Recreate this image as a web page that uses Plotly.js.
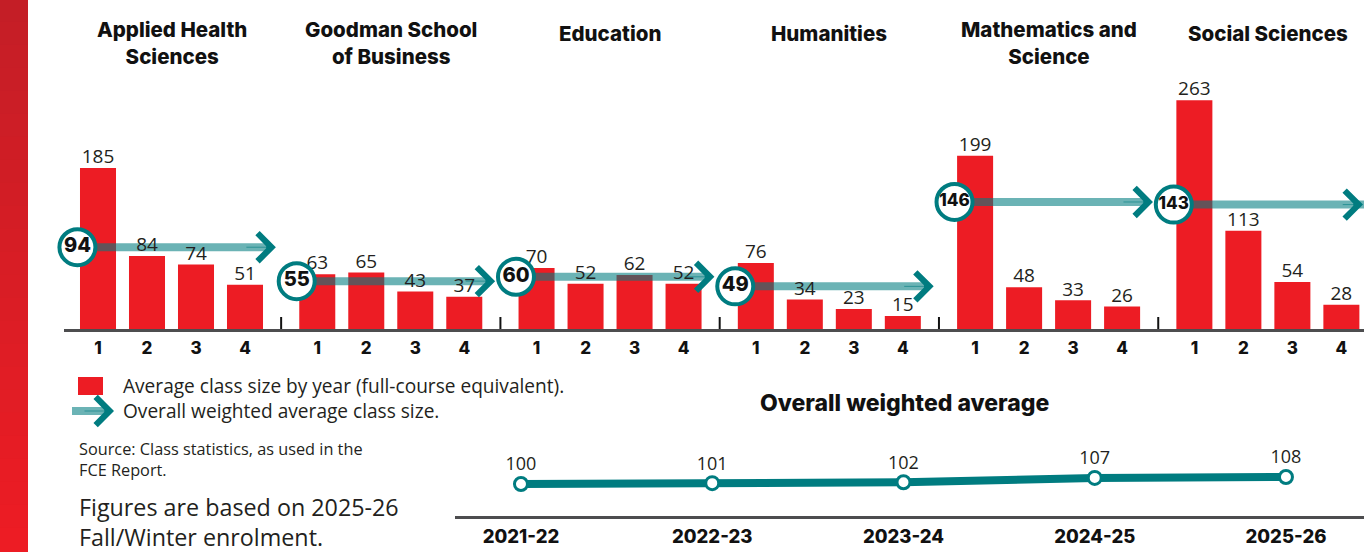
<!DOCTYPE html>
<html>
<head>
<meta charset="utf-8">
<script src="https://cdn.plot.ly/plotly-3.0.1.min.js"></script>
<style>
html,body{margin:0;padding:0;background:#fff;}
#chart{width:1364px;height:552px;}
</style>
</head>
<body>
<div id="chart"></div>
<script>
// ---------- DATA ----------
const faculties = ['Applied Health<br>Sciences', 'Goodman School<br>of Business', 'Education', 'Humanities', 'Mathematics and<br>Science', 'Social Sciences'];
const yearOfStudy = ['1', '2', '3', '4'];
const appliedHealthSciences = [185, 84, 74, 51];
const goodmanBusiness = [63, 65, 43, 37];
const education = [70, 52, 62, 52];
const humanities = [76, 34, 23, 15];
const mathematicsScience = [199, 48, 33, 26];
const socialSciences = [263, 113, 54, 28];
const weightedAverage = [94, 55, 60, 49, 146, 143];
const trendYears = ['2021-22', '2022-23', '2023-24', '2024-25', '2025-26'];
const trendValues = [100, 101, 102, 107, 108];

// ---------- STYLE / LAYOUT CONSTANTS ----------
const W = 1364, H = 552;
const GROUP_STEP = 4.475;
const RED = '#ed1c24';
const TEAL = '#007c80';
const TEAL_T = 'rgba(0,124,128,0.58)';
const INK = '#231f20';
const REG = '"Open Sans", Lato, sans-serif';
const BOLD = 'Inter, "Liberation Sans", sans-serif';
const px = p => p / W;
const py = p => 1 - p / H;

const X_DOMAIN = [px(64), 1];
const X_RANGE = [(64 - 98) / 49, (1364 - 98) / 49];
const toPaperX = x => X_DOMAIN[0] + (x - X_RANGE[0]) / (X_RANGE[1] - X_RANGE[0]) * (X_DOMAIN[1] - X_DOMAIN[0]);

const series = [appliedHealthSciences, goodmanBusiness, education, humanities, mathematicsScience, socialSciences];

const barX = [], barY = [], tickVals = [], tickText = [];
series.forEach((vals, g) => vals.forEach((v, i) => {
  const x = g * GROUP_STEP + i;
  barX.push(x); barY.push(v); tickVals.push(x); tickText.push(yearOfStudy[i]);
}));

const arrowX = [], arrowY = [], circX = [], headX = [];
weightedAverage.forEach((v, g) => {
  const x0 = g * GROUP_STEP - 0.42;
  const x1 = g * GROUP_STEP + 3.5;
  arrowX.push(x0, x1, null); arrowY.push(v, v, null);
  circX.push(x0); headX.push(g * GROUP_STEP + 3.63);
});

const traces = [
  {
    type: 'bar', x: barX, y: barY, width: 0.735,
    marker: {color: RED}, hoverinfo: 'x+y', showlegend: false,
    xaxis: 'x', yaxis: 'y'
  },
  {
    type: 'scatter', mode: 'lines', x: arrowX, y: arrowY,
    line: {color: TEAL_T, width: 8}, hoverinfo: 'skip', showlegend: false,
    xaxis: 'x', yaxis: 'y'
  },
  {
    type: 'scatter', mode: 'text', x: barX, y: barY,
    text: barY.map(String), textposition: 'top center',
    textfont: {family: REG, size: 19, color: INK},
    cliponaxis: false, hoverinfo: 'skip', showlegend: false,
    xaxis: 'x', yaxis: 'y'
  },
  {
    type: 'scatter', mode: 'markers+text', x: circX, y: weightedAverage,
    text: weightedAverage.map(String), textposition: 'middle center',
    textfont: {family: BOLD, size: weightedAverage.map(v => String(v).length > 2 ? 17 : 20), color: '#111', weight: 800},
    marker: {symbol: 'circle', size: 36, color: '#ffffff', line: {color: TEAL, width: 4}},
    cliponaxis: false, hoverinfo: 'y', showlegend: false,
    xaxis: 'x', yaxis: 'y'
  },
  {
    type: 'scatter', mode: 'lines+markers+text', x: trendYears, y: trendValues,
    text: trendValues.map(String), textposition: 'top center',
    textfont: {family: REG, size: 18, color: INK},
    line: {color: TEAL, width: 8},
    marker: {symbol: 'circle', size: 13, color: '#ffffff', line: {color: TEAL, width: 3}},
    cliponaxis: false, hoverinfo: 'x+y', showlegend: false,
    xaxis: 'x2', yaxis: 'y2'
  }
];

const shapes = [];
// left red band (vertical gradient approximated by stripes)
const STRIPES = 24;
for (let k = 0; k < STRIPES; k++) {
  const t = k / (STRIPES - 1);
  const r = Math.round(196 + (237 - 196) * t);
  const gC = Math.round(30 + (28 - 30) * t);
  const b = Math.round(38 + (36 - 38) * t);
  shapes.push({type: 'rect', xref: 'paper', yref: 'paper', x0: 0, x1: px(28),
    y0: 1 - (k + 1) / STRIPES, y1: 1 - k / STRIPES + 0.002,
    fillcolor: `rgb(${r},${gC},${b})`, line: {width: 0}, layer: 'above'});
}
// group separator ticks on the baseline
for (let g = 0; g < series.length - 1; g++) {
  const xs = g * GROUP_STEP + (3 + GROUP_STEP) / 2;
  shapes.push({type: 'line', xref: 'x', yref: 'y', ysizemode: 'pixel', yanchor: 0,
    x0: xs, x1: xs, y0: 0, y1: 12, line: {color: '#111', width: 2}});
}
// legend swatches
shapes.push({type: 'rect', xref: 'paper', yref: 'paper', x0: px(78), x1: px(103), y0: py(395), y1: py(377),
  fillcolor: RED, line: {width: 0}});
shapes.push({type: 'line', xref: 'paper', yref: 'paper', x0: px(72), x1: px(108), y0: py(411), y1: py(411),
  line: {color: TEAL_T, width: 8}});

const chevron = (x, y, xref, yref) => ({
  xref: xref, yref: yref, x: x, y: y, text: ' ', font: {size: 1},
  showarrow: true, arrowhead: 4, arrowsize: 9, arrowwidth: 0.6, arrowcolor: TEAL,
  axref: 'pixel', ayref: 'pixel', ax: -30, ay: 0, standoff: 0, borderpad: 0
});

const annotations = [];
// faculty titles
faculties.forEach((name, g) => {
  const twoLines = name.indexOf('<br>') >= 0;
  annotations.push({xref: 'x', yref: 'paper', x: g * GROUP_STEP + 1.5, y: py(twoLines ? 43.5 : 33),
    xanchor: 'center', yanchor: 'middle', text: name, showarrow: false,
    font: {family: BOLD, size: 20.5, color: '#111', weight: 800}});
});
// arrow heads (chevrons)
headX.forEach((x, g) => {
  annotations.push(chevron(toPaperX(x), weightedAverage[g], 'paper', 'y'));
});
// legend chevron
annotations.push(chevron(px(114), py(411), 'paper', 'paper'));
// legend texts
annotations.push({xref: 'paper', yref: 'paper', x: px(121), y: py(386), xanchor: 'left', yanchor: 'middle',
  text: 'Average class size by year (full-course equivalent).', showarrow: false,
  font: {family: REG, size: 19.1, color: INK}});
annotations.push({xref: 'paper', yref: 'paper', x: px(121), y: py(411), xanchor: 'left', yanchor: 'middle',
  text: 'Overall weighted average class size.', showarrow: false,
  font: {family: REG, size: 19.1, color: INK}});
annotations.push({xref: 'paper', yref: 'paper', x: px(77), y: py(459.5), xanchor: 'left', yanchor: 'middle', align: 'left',
  text: 'Source: Class statistics, as used in the<br>FCE Report.', showarrow: false,
  font: {family: REG, size: 16.3, color: INK}});
annotations.push({xref: 'paper', yref: 'paper', x: px(77), y: py(522), xanchor: 'left', yanchor: 'middle', align: 'left',
  text: 'Figures are based on 2025-26<br>Fall/Winter enrolment.', showarrow: false,
  font: {family: REG, size: 23.3, color: INK}});
// bottom chart title
annotations.push({xref: 'paper', yref: 'paper', x: px(905), y: py(403), xanchor: 'center', yanchor: 'middle',
  text: 'Overall weighted average', showarrow: false,
  font: {family: BOLD, size: 23, color: '#111', weight: 800}});

const layout = {
  width: W, height: H,
  margin: {l: 0, r: 0, t: 0, b: 0, pad: 0},
  paper_bgcolor: '#ffffff', plot_bgcolor: 'rgba(0,0,0,0)',
  showlegend: false,
  xaxis: {
    domain: X_DOMAIN, range: X_RANGE,
    tickmode: 'array', tickvals: tickVals, ticktext: tickText,
    tickfont: {family: BOLD, size: 17, color: '#111', weight: 800},
    ticks: '', ticklabelstandoff: 2,
    showgrid: false, zeroline: false, showline: true, linecolor: '#4d4d4f', linewidth: 2.5,
    fixedrange: true, anchor: 'y'
  },
  yaxis: {
    domain: [py(329), py(68)], range: [0, 300], visible: false, fixedrange: true, anchor: 'x'
  },
  xaxis2: {
    domain: [px(455), 1], range: [-0.345, 4.408], type: 'category',
    tickfont: {family: BOLD, size: 18.5, color: '#111', weight: 800},
    ticks: '', ticklabelstandoff: 2,
    showgrid: false, zeroline: false, showline: true, linecolor: '#4d4d4f', linewidth: 2.5,
    fixedrange: true, anchor: 'y2'
  },
  yaxis2: {
    domain: [py(516), py(440)], range: [100 - 32 / 0.875, 100 + 44 / 0.875],
    visible: false, fixedrange: true, anchor: 'x2'
  },
  shapes: shapes,
  annotations: annotations
};

Plotly.newPlot('chart', traces, layout, {displayModeBar: false, staticPlot: true});
</script>
</body>
</html>
